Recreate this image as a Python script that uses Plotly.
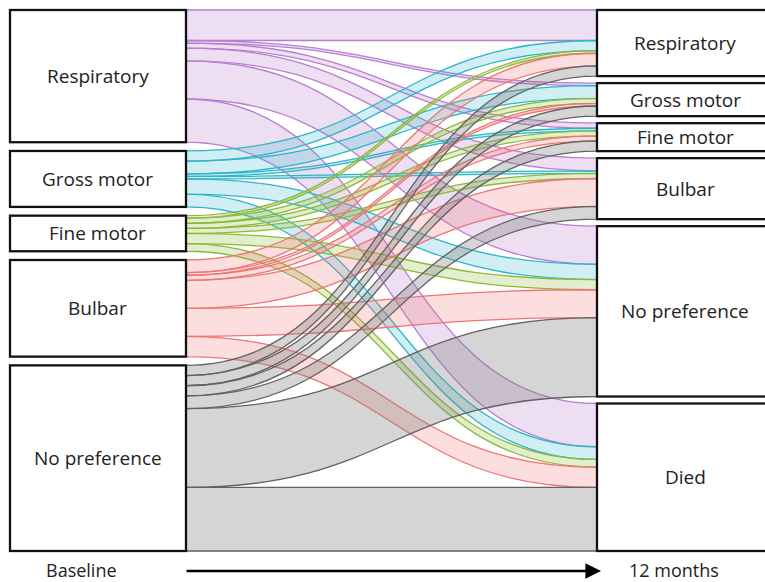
import plotly.graph_objects as go

# Preferred domain at baseline (rows) and at 12 months (columns)
baseline_groups = ["Respiratory", "Gross motor", "Fine motor", "Bulbar", "No preference"]
followup_groups = ["Respiratory", "Gross motor", "Fine motor", "Bulbar", "No preference", "Died"]

# Number of participants moving from each baseline group to each 12-month group
from_respiratory = [12, 1, 2, 5, 15, 17]
from_gross_motor = [4, 5, 1, 1, 6, 5]
from_fine_motor = [1, 2, 2, 2, 4, 3]
from_bulbar = [5, 1, 2, 11, 11, 8]
from_no_preference = [4, 4, 4, 5, 31, 25]

flow_rows = [from_respiratory, from_gross_motor, from_fine_motor, from_bulbar, from_no_preference]

# Colour per baseline group: (outline, translucent fill)
group_colours = [
    ("#B77ED2", "rgba(187,123,203,0.25)"),
    ("#2DB6C8", "rgba(60,185,205,0.24)"),
    ("#8DB93A", "rgba(140,185,50,0.24)"),
    ("#EF7575", "rgba(243,118,118,0.24)"),
    ("#626262", "rgba(125,125,125,0.32)"),
]

W, H_FIG = 765, 582
M_T, M_B = 10, 31
PLOT_H = H_FIG - M_T - M_B
THICK = 176
PAD = 7
FONT = dict(family="Open Sans", size=19, color="#222222")
AXIS_FONT = dict(family="Open Sans", size=18, color="#222222")

n_left = len(baseline_groups)
n_right = len(followup_groups)

left_tot = [sum(r) for r in flow_rows]
right_tot = [sum(r[j] for r in flow_rows) for j in range(n_right)]
total = sum(left_tot)

# pixels per participant, as d3-sankey derives it from the fuller column
ky = min((PLOT_H - (n_left - 1) * PAD) / total, (PLOT_H - (n_right - 1) * PAD) / total)


def column_tops(tots):
    gap = (PLOT_H - sum(tots) * ky) / (len(tots) - 1)
    tops, y = [], 0.0
    for t in tots:
        tops.append(y)
        y += t * ky + gap
    return tops


left_top = column_tops(left_tot)
right_top = column_tops(right_tot)
left_c = [t + v * ky / 2 for t, v in zip(left_top, left_tot)]
right_c = [t + v * ky / 2 for t, v in zip(right_top, right_tot)]

left_x = (10 + THICK / 2) / W
right_x = (597 + THICK / 2) / W

CLEAR = "rgba(0,0,0,0)"
PARK_Y = 4.0  # balancing nodes sit far below the visible area
traces = []

# One sankey layer per baseline group so each group's ribbons get their own outline colour.
# A balancing flow between two parked nodes keeps the pixels-per-participant scale identical
# across layers (with zero padding, scale = plot height / column total).
for k, row in enumerate(flow_rows):
    tgt = [j for j in range(n_right) if row[j] > 0]
    balance = PLOT_H / ky - sum(row)
    xs = [left_x] + [right_x] * len(tgt) + [left_x, right_x]
    ys = [left_c[k] / PLOT_H]
    for j in tgt:
        offset = sum(flow_rows[i][j] for i in range(k)) * ky
        ys.append((right_top[j] + offset + row[j] * ky / 2) / PLOT_H)
    ys += [PARK_Y, PARK_Y]
    n_nodes = len(xs)
    traces.append(go.Sankey(
        arrangement="fixed",
        domain=dict(x=[0, 1], y=[0, 1]),
        node=dict(
            label=["" for _ in xs], x=xs, y=ys, thickness=THICK, pad=0,
            color=CLEAR, line=dict(color=CLEAR, width=0), hoverinfo="none",
        ),
        link=dict(
            source=[0] * len(tgt) + [n_nodes - 2],
            target=list(range(1, len(tgt) + 1)) + [n_nodes - 1],
            value=[row[j] for j in tgt] + [balance],
            color=[group_colours[k][1]] * len(tgt) + [CLEAR],
            line=dict(color=group_colours[k][0], width=1.3),
            hoverinfo="none",
        ),
    ))

# Node boxes drawn on top of every ribbon layer
src_all, tgt_all, val_all = [], [], []
for i, row in enumerate(flow_rows):
    for j, v in enumerate(row):
        if v > 0:
            src_all.append(i)
            tgt_all.append(n_left + j)
            val_all.append(v)

names = baseline_groups + followup_groups
traces.append(go.Sankey(
    arrangement="fixed",
    domain=dict(x=[0, 1], y=[0, 1]),
    node=dict(
        label=["" for _ in names],
        customdata=names,
        hovertemplate="%{customdata}<extra></extra>",
        x=[left_x] * n_left + [right_x] * n_right,
        y=[c / PLOT_H for c in left_c + right_c],
        thickness=THICK,
        pad=PAD,
        color="white",
        line=dict(color="#111111", width=2.3),
    ),
    link=dict(source=src_all, target=tgt_all, value=val_all, color=CLEAR,
              line=dict(color=CLEAR, width=0), hoverinfo="none"),
))

fig = go.Figure(traces)

annotations = []
for name, c in zip(baseline_groups, left_c):
    annotations.append(dict(x=left_x, y=1 - c / PLOT_H, xref="paper", yref="paper",
                            text=name, showarrow=False, xanchor="center", yanchor="middle",
                            font=FONT))
for name, c in zip(followup_groups, right_c):
    annotations.append(dict(x=right_x, y=1 - c / PLOT_H, xref="paper", yref="paper",
                            text=name, showarrow=False, xanchor="center", yanchor="middle",
                            font=FONT))

caption_y = -18.5 / PLOT_H
arrow_y = -20 / PLOT_H
annotations.append(dict(x=81 / W, y=caption_y, xref="paper", yref="paper", text="Baseline",
                        showarrow=False, xanchor="center", yanchor="middle", font=AXIS_FONT,
                        borderpad=0))
annotations.append(dict(x=674 / W, y=caption_y, xref="paper", yref="paper", text="12 months",
                        showarrow=False, xanchor="center", yanchor="middle", font=AXIS_FONT,
                        borderpad=0))
# time arrow between the two column captions
annotations.append(dict(x=601 / W, y=arrow_y, xref="paper", yref="paper", text="",
                        showarrow=True, ax=185 - 601, ay=0, axref="pixel", ayref="pixel",
                        arrowhead=2, arrowsize=1.2, arrowwidth=2.6, arrowcolor="#000000",
                        standoff=0))

fig.update_layout(
    width=W,
    height=H_FIG,
    margin=dict(l=0, r=0, t=M_T, b=M_B),
    paper_bgcolor="white",
    plot_bgcolor="white",
    annotations=annotations,
    font=dict(family="Open Sans"),
    showlegend=False,
)

fig.write_html("out.html")
